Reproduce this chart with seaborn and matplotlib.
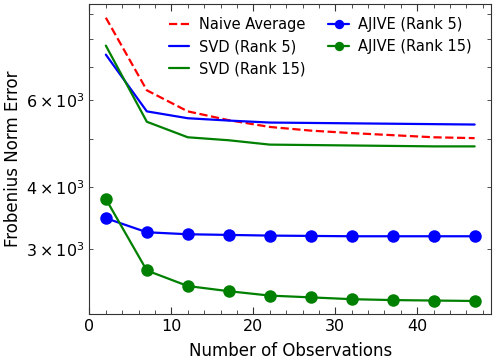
import numpy as np
import pandas as pd
import matplotlib
matplotlib.use("Agg")
import matplotlib.pyplot as plt
import seaborn as sns
from matplotlib.ticker import AutoMinorLocator

obs = [2, 7, 12, 17, 22, 27, 32, 37, 42, 47]
naive = [8830, 6290, 5700, 5470, 5300, 5210, 5150, 5100, 5050, 5030]
svd5 = [7430, 5700, 5520, 5460, 5410, 5400, 5390, 5380, 5370, 5360]
svd15 = [7750, 5430, 5050, 4980, 4880, 4870, 4860, 4850, 4840, 4840]
ajive5 = [3460, 3240, 3210, 3200, 3190, 3185, 3180, 3180, 3180, 3180]
ajive15 = [3785, 2710, 2520, 2460, 2410, 2390, 2370, 2360, 2355, 2350]

sns.set_style("ticks")
plt.rcParams['font.family'] = ['DejaVu Sans']
plt.rcParams['text.color'] = 'black'
plt.rcParams['axes.labelcolor'] = 'black'
plt.rcParams['xtick.color'] = '#333333'
plt.rcParams['ytick.color'] = '#333333'
plt.rcParams['xtick.labelcolor'] = 'black'
plt.rcParams['ytick.labelcolor'] = 'black'

fig, ax = plt.subplots(figsize=(4.97, 3.64), dpi=100)

sns.lineplot(x=obs, y=naive, color='r', ls='--', lw=1.6, label='Naive Average', ax=ax)
sns.lineplot(x=obs, y=svd5, color='b', lw=1.6, label='SVD (Rank 5)', ax=ax)
sns.lineplot(x=obs, y=svd15, color='g', lw=1.6, label='SVD (Rank 15)', ax=ax)
sns.lineplot(x=obs, y=ajive5, color='b', lw=1.6, marker='o', markersize=9,
             markeredgewidth=0, label='AJIVE (Rank 5)', ax=ax)
sns.lineplot(x=obs, y=ajive15, color='g', lw=1.6, marker='o', markersize=9,
             markeredgewidth=0, label='AJIVE (Rank 15)', ax=ax)

ax.set_yscale('log')
ax.set_ylim(2210, 9430)
ax.set_xlim(0, 49)
ax.xaxis.set_minor_locator(AutoMinorLocator(5))
ax.tick_params(which='both', direction='in', top=True, right=True, labelsize=11.5)
ax.tick_params(which='major', length=5)
ax.tick_params(which='minor', length=3)
for s in ax.spines.values():
    s.set_color('#333333')
ax.set_xlabel('Number of Observations', fontsize=12, labelpad=6)
ax.set_ylabel('Frobenius Norm Error', fontsize=12, labelpad=3)
ax.legend(ncol=2, frameon=False, fontsize=10.5, loc='upper right',
          bbox_to_anchor=(0.985, 1.0), handlelength=1.4, columnspacing=1.6,
          handletextpad=0.65, labelspacing=0.5, markerscale=0.75)

fig.subplots_adjust(left=0.18, right=0.988, top=0.99, bottom=0.137)
plt.savefig('out.png')
plt.close()
